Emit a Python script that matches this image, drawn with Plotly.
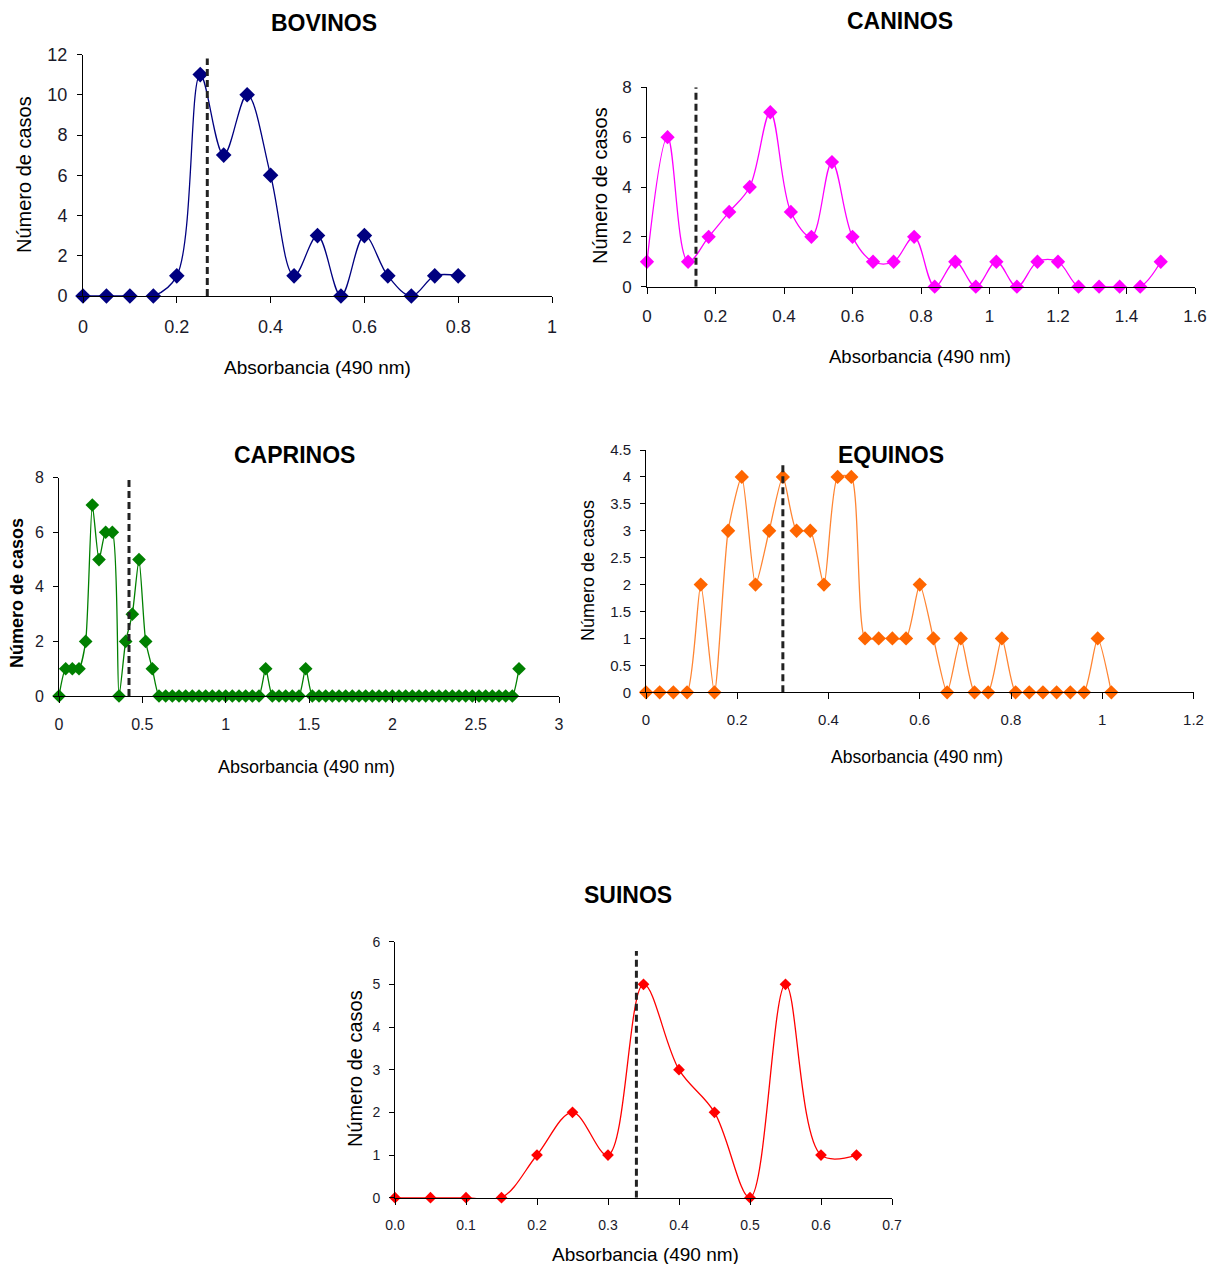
import plotly.graph_objects as go

# The page body has an 8px margin; the figure is sized to fit inside the window.
OFF = 8
W, H = 1221 - 2 * OFF, 1272 - 2 * OFF
FONT = "Liberation Sans, Arial, sans-serif"

# ---------------- data ----------------
bov_x = [0, 0.05, 0.10, 0.15, 0.20, 0.25, 0.30, 0.35, 0.40, 0.45, 0.50, 0.55, 0.60, 0.65, 0.70, 0.75, 0.80]
bov_y = [0, 0, 0, 0, 1, 11, 7, 10, 6, 1, 3, 0, 3, 1, 0, 1, 1]
bov_cut = 0.265

can_x = [0, 0.06, 0.12, 0.18, 0.24, 0.30, 0.36, 0.42, 0.48, 0.54, 0.60, 0.66, 0.72, 0.78, 0.84,
         0.90, 0.96, 1.02, 1.08, 1.14, 1.20, 1.26, 1.32, 1.38, 1.44, 1.50]
can_y = [1, 6, 1, 2, 3, 4, 7, 3, 2, 5, 2, 1, 1, 2, 0, 1, 0, 1, 0, 1, 1, 0, 0, 0, 0, 1]
can_cut = 0.143

cap_x = [0, 0.04, 0.08, 0.12, 0.16, 0.20, 0.24, 0.28, 0.32, 0.36, 0.40, 0.44, 0.48, 0.52, 0.56,
         0.60, 0.64, 0.68, 0.72, 0.76, 0.80, 0.84, 0.88, 0.92, 0.96, 1.00, 1.04, 1.08, 1.12, 1.16,
         1.20, 1.24, 1.28, 1.32, 1.36, 1.40, 1.44, 1.48, 1.52, 1.56, 1.60, 1.64, 1.68, 1.72, 1.76,
         1.80, 1.84, 1.88, 1.92, 1.96, 2.00, 2.04, 2.08, 2.12, 2.16, 2.20, 2.24, 2.28, 2.32, 2.36,
         2.40, 2.44, 2.48, 2.52, 2.56, 2.60, 2.64, 2.68, 2.72, 2.76]
cap_y = [0, 1, 1, 1, 2, 7, 5, 6, 6, 0, 2, 3, 5, 2, 1,
         0, 0, 0, 0, 0, 0, 0, 0, 0, 0, 0, 0, 0, 0, 0,
         0, 1, 0, 0, 0, 0, 0, 1, 0, 0, 0, 0, 0, 0, 0,
         0, 0, 0, 0, 0, 0, 0, 0, 0, 0, 0, 0, 0, 0, 0,
         0, 0, 0, 0, 0, 0, 0, 0, 0, 1]
cap_cut = 0.42

equ_x = [0, 0.03, 0.06, 0.09, 0.12, 0.15, 0.18, 0.21, 0.24, 0.27, 0.30, 0.33, 0.36, 0.39, 0.42,
         0.45, 0.48, 0.51, 0.54, 0.57, 0.60, 0.63, 0.66, 0.69, 0.72, 0.75, 0.78, 0.81, 0.84, 0.87,
         0.90, 0.93, 0.96, 0.99, 1.02]
equ_y = [0, 0, 0, 0, 2, 0, 3, 4, 2, 3, 4, 3, 3, 2, 4,
         4, 1, 1, 1, 1, 2, 1, 0, 1, 0, 0, 1, 0, 0, 0,
         0, 0, 0, 1, 0]
equ_cut = 0.30

sui_x = [0, 0.05, 0.10, 0.15, 0.20, 0.25, 0.30, 0.35, 0.40, 0.45, 0.50, 0.55, 0.60, 0.65]
sui_y = [0, 0, 0, 0, 1, 2, 1, 5, 3, 2, 0, 5, 1, 1]
sui_cut = 0.34

titles = ["BOVINOS", "CANINOS", "CAPRINOS", "EQUINOS", "SUINOS"]
x_title = "Absorbancia (490 nm)"
y_title = "Número de casos"

# ---------------- panels ----------------
def px_x(p):
    return (p - OFF) / W

def px_y(p):
    return 1 - (p - OFF) / H

panels = [
    dict(x=bov_x, y=bov_y, c="#000080", lc="#000080", ms=12, sm=1.0, cut=bov_cut, ctop=11.8,
         xd=(83, 552), yd=(296, 54.5), xr=[0, 1], xdt=0.2, yr=[0, 12], ydt=2, tf=18, fmt=""),
    dict(x=can_x, y=can_y, c="#FF00FF", lc="#FF00FF", ms=11, sm=1.0, cut=can_cut, ctop=8,
         xd=(647, 1195), yd=(286.7, 87.3), xr=[0, 1.6], xdt=0.2, yr=[0, 8], ydt=2, tf=17, fmt=""),
    dict(x=cap_x, y=cap_y, c="#008000", lc="#008000", ms=10.5, sm=0.6, cut=cap_cut, ctop=8.15,
         xd=(59, 559), yd=(696, 477.7), xr=[0, 3], xdt=0.5, yr=[0, 8], ydt=2, tf=16, fmt=""),
    dict(x=equ_x, y=equ_y, c="#FF6600", lc="#FF8533", ms=11, sm=0.6, cut=equ_cut, ctop=4.25,
         xd=(646, 1193.5), yd=(692.3, 450), xr=[0, 1.2], xdt=0.2, yr=[0, 4.5], ydt=0.5, tf=15, fmt=""),
    dict(x=sui_x, y=sui_y, c="#FF0000", lc="#FF0000", ms=9, sm=1.0, cut=sui_cut, ctop=5.78,
         xd=(395, 892), yd=(1197.7, 941.7), xr=[0, 0.7], xdt=0.1, yr=[0, 6], ydt=1, tf=14, fmt=".1f"),
]

fig = go.Figure()
layout = {}
for i, p in enumerate(panels):
    n = "" if i == 0 else str(i + 1)
    xa, ya = "x" + n, "y" + n
    fig.add_trace(go.Scatter(
        x=p["x"], y=p["y"], xaxis=xa, yaxis=ya, mode="lines+markers",
        line=dict(color=p["lc"], width=1.3, shape="spline", smoothing=p["sm"]),
        marker=dict(symbol="diamond", size=p["ms"], color=p["c"]),
        cliponaxis=False, showlegend=False, hoverinfo="x+y"))
    fig.add_trace(go.Scatter(
        x=[p["cut"], p["cut"]], y=[0, p["ctop"]], xaxis=xa, yaxis=ya, mode="lines",
        line=dict(color="#222222", width=3, dash="7px,4px"),
        cliponaxis=False, showlegend=False, hoverinfo="skip"))
    common = dict(showline=True, linecolor="black", linewidth=1, showgrid=False, zeroline=False,
                  ticks="outside", tickcolor="black", tickwidth=1, automargin=False,
                  tickfont=dict(family=FONT, size=p["tf"], color="#1a1a2a"))
    layout["xaxis" + n] = dict(common, domain=[px_x(p["xd"][0]), px_x(p["xd"][1])], anchor=ya,
                               range=p["xr"], dtick=p["xdt"], tick0=0, ticklen=6,
                               ticklabelstandoff=8, tickformat=p["fmt"])
    layout["yaxis" + n] = dict(common, domain=[px_y(p["yd"][0]), px_y(p["yd"][1])], anchor=xa,
                               range=p["yr"], dtick=p["ydt"], tick0=0, ticklen=5,
                               ticklabelstandoff=6)

# ---------------- text ----------------
ann = []
def add_text(t, x, y, size, bold=False, angle=0):
    ann.append(dict(text=("<b>%s</b>" % t) if bold else t, x=px_x(x), y=px_y(y), xref="paper", yref="paper",
                    xanchor="center", yanchor="middle", showarrow=False, textangle=angle,
                    font=dict(family=FONT, size=size, color="black")))

title_pos = [(324, 23), (900, 21), (294, 455), (891, 455), (628, 895)]
for t, (x, y) in zip(titles, title_pos):
    add_text(t, x, y, 23, bold=True)

xt_pos = [(318, 368, 19), (920, 356, 18.5), (306, 767, 18), (917, 757, 17.5), (645, 1254, 19)]
for x, y, s in xt_pos:
    add_text(x_title, x, y, s)

yt_pos = [(24, 175, 20, False), (600, 186, 20, False), (17, 593, 18, True), (588, 571, 18, False), (355, 1068, 20, False)]
for x, y, s, b in yt_pos:
    add_text(y_title, x, y, s, bold=b, angle=-90)

fig.update_layout(template="none", width=W, height=H,
                  margin=dict(l=0, r=0, t=0, b=0, autoexpand=False),
                  plot_bgcolor="white", paper_bgcolor="white", annotations=ann, showlegend=False,
                  font=dict(family=FONT), **layout)

fig.write_html("out.html")
